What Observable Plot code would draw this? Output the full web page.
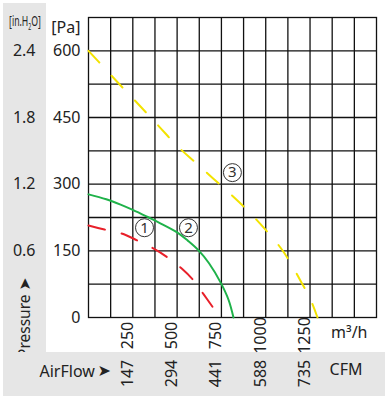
<!DOCTYPE html>
<html>
<head>
<meta charset="utf-8">
<script src="https://cdn.jsdelivr.net/npm/d3@7"></script>
<script src="https://cdn.jsdelivr.net/npm/@observablehq/plot@0.6"></script>
<style>
  html, body { margin: 0; padding: 0; background: white; }
  #wrap { position: relative; width: 388px; height: 399px; overflow: hidden; font-family: "Noto Sans", sans-serif; color: #222; }
  .band { position: absolute; background: #e6e6e6; }
  #leftBand { left: 3px; top: 3px; width: 43px; height: 349px; overflow: hidden; }
  #bottomBand { left: 3px; top: 352px; width: 382px; height: 44px; }
  #unitIn { position: absolute; left: 21.5px; top: 18.5px; font-size: 15px; line-height: 1; white-space: nowrap; transform: translate(-50%, -50%) scaleX(0.58); }
  #pressure { position: absolute; left: 22px; top: 355px; font-size: 15.5px; white-space: nowrap; transform-origin: 0 0; transform: rotate(-90deg) translate(0, -50%); line-height: 1; }
  #chart { position: absolute; left: 0; top: 0; }
</style>
</head>
<body>
<div id="wrap">
  <div class="band" id="leftBand">
    <div id="unitIn">[in.H<sub style="font-size:9px">2</sub>O]</div>
    <div id="pressure">Pressure <span style="font-family:'DejaVu Sans'">➤</span></div>
  </div>
  <div class="band" id="bottomBand"></div>
  <div id="chart"></div>
</div>
<script>
// Tick values and labels
const flowTicks = [250, 500, 750, 1000, 1250];
const cfmLabels = ["147", "294", "441", "588", "735"];
const paTicks = [0, 150, 300, 450, 600];
const inH2OTicks = [150, 300, 450, 600];
const inH2OLabels = ["0.6", "1.2", "1.8", "2.4"];
const flowGrid = [125, 250, 375, 500, 625, 750, 875, 1000, 1125, 1250, 1375, 1500];
const paGrid = [75, 150, 225, 300, 375, 450, 525, 600];

// Curve ① (red, dashed)
const c1Flow = [0, 90, 187, 277, 368, 447, 526, 594, 650, 707, 741];
const c1Pa   = [207, 198, 189, 173, 155, 135, 110, 83, 52, 20, 0];
// Curve ② (green, solid)
const c2Flow = [0, 100, 181, 250, 339, 400, 502, 560, 621, 680, 745, 790, 818];
const c2Pa   = [277, 266, 254, 242, 225, 213, 191, 173, 151, 122, 79, 40, 0];
// Curve ③ (yellow, dashed)
const c3Flow = [0, 100, 200, 300, 400, 500, 600, 700, 800, 900, 1000, 1100, 1200, 1250, 1292];
const c3Pa   = [600, 557, 514, 472, 429, 386, 350, 314, 278, 240, 197, 148, 80, 43, 0];

// Curve labels
const labelNames = ["1", "2", "3"];
const labelFlow = [316, 564, 812];
const labelPa = [202, 202, 326];

const toPts = (xs, ys) => xs.map((x, i) => ({x, y: ys[i]}));
const c1 = toPts(c1Flow, c1Pa);
const c2 = toPts(c2Flow, c2Pa);
const c3 = toPts(c3Flow, c3Pa);
const labels = labelNames.map((n, i) => ({n, x: labelFlow[i], y: labelPa[i]}));

const gridStyle = {stroke: "#111", strokeWidth: 1.3};

const chart = Plot.plot({
  width: 388,
  height: 399,
  marginLeft: 88,
  marginRight: 12,
  marginTop: 17,
  marginBottom: 82,
  x: {domain: [0, 1625], axis: null},
  y: {domain: [0, 675], axis: null},
  style: {background: "transparent", fontFamily: "Noto Sans", color: "#222", overflow: "visible"},
  marks: [
    Plot.ruleX(flowGrid, gridStyle),
    Plot.ruleY(paGrid, gridStyle),
    Plot.frame(gridStyle),
    Plot.line(c3, {x: "x", y: "y", stroke: "#f3e300", strokeWidth: 2, strokeDasharray: "16,18", curve: "catmull-rom"}),
    Plot.line(c2, {x: "x", y: "y", stroke: "#1fb24a", strokeWidth: 2, curve: "catmull-rom"}),
    Plot.line(c1, {x: "x", y: "y", stroke: "#e8202a", strokeWidth: 2, strokeDasharray: "17,17", curve: "catmull-rom"}),
    Plot.dot(labels, {x: "x", y: "y", r: 9, stroke: "#333", strokeWidth: 1, fill: "none"}),
    Plot.text(labels, {x: "x", y: "y", text: "n", fontSize: 15, fill: "#333"}),
    // Y labels (Pa)
    Plot.text(paTicks, {y: d => d, text: d => String(d), frameAnchor: "left", dx: -8, textAnchor: "end", fontSize: 16, fill: "#222"}),
    // Y labels (in.H2O)
    Plot.text(inH2OTicks, {y: d => d, text: (d, i) => inH2OLabels[i], frameAnchor: "left", dx: -53, textAnchor: "end", fontSize: 16, fill: "#222"}),
    Plot.text(["[Pa]"], {text: d => d, frameAnchor: "top-left", dx: -8, dy: 4, textAnchor: "end", fontSize: 16, fill: "#222"}),
    // X labels (m3/h)
    Plot.text(flowTicks, {x: d => d, text: d => String(d), frameAnchor: "bottom", dy: 18, rotate: -90, fontSize: 16, fill: "#222"}),
    Plot.text(["m³/h"], {text: d => d, frameAnchor: "bottom-right", dx: -9, dy: 20, textAnchor: "end", fontSize: 16, fill: "#222"}),
    // X labels (CFM)
    Plot.text(flowTicks, {x: d => d, text: (d, i) => cfmLabels[i], frameAnchor: "bottom", dy: 56, rotate: -90, fontSize: 16, fill: "#222"}),
    Plot.text(["CFM"], {text: d => d, frameAnchor: "bottom-right", dx: -14, dy: 57, textAnchor: "end", fontSize: 16, fill: "#222"}),
    Plot.text(["AirFlow"], {text: d => d, frameAnchor: "bottom-left", dx: -49, dy: 59, textAnchor: "start", fontSize: 16, fill: "#222"}),
    Plot.text(["➤"], {text: d => d, frameAnchor: "bottom-left", dx: 9, dy: 58, textAnchor: "start", fontSize: 16, fontFamily: "DejaVu Sans", fill: "#222"})
  ]
});
document.getElementById("chart").appendChild(chart);
</script>
</body>
</html>
